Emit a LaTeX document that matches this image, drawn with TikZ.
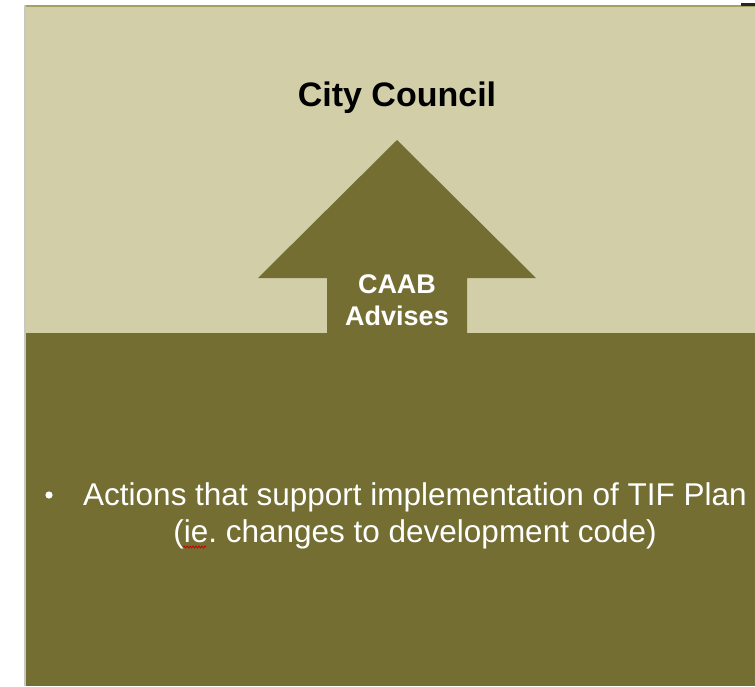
\documentclass[tikz,border=0pt]{standalone}
\usepackage{fontspec}
\setmainfont{Liberation Sans}
\usetikzlibrary{decorations.pathmorphing}
\definecolor{lightpanel}{RGB}{210,207,168}
\definecolor{darkolive}{RGB}{116,110,51}
\definecolor{topline}{RGB}{165,160,95}
\definecolor{shadowgray}{RGB}{200,200,195}
\tikzset{
  panel/.style={fill=#1, draw=none},
  whitetxt/.style={text=white, font=\bfseries\fontsize{27}{32}\selectfont, align=center, inner sep=0pt},
  bodytxt/.style={text=white, font=\fontsize{31.5}{37}\selectfont, inner sep=0pt},
}
\frenchspacing
\begin{document}
\begin{tikzpicture}[x=1pt, y=-1pt]
\useasboundingbox (0,0) rectangle (755,686);
\fill[white] (0,0) rectangle (755,686);
% shadow at left edge
\fill[shadowgray] (24,5) rectangle (26,686);
% panels
\fill[panel=lightpanel] (26,6) rectangle (755,333);
\fill[panel=darkolive] (26,333) rectangle (755,686);
% top border line and mark
\fill[topline] (26,4.5) rectangle (755,7);
\fill[black!85] (741,3) rectangle (755,6);
% arrow
\fill[darkolive] (397,140) -- (536,278) -- (467,278) -- (467,334) -- (327,334) -- (327,278) -- (258,278) -- cycle;
% texts
\node[anchor=base, font=\bfseries\fontsize{34}{40}\selectfont, inner sep=0pt] (council) at (397,106) {City Council};
\node[anchor=base, whitetxt] (caab) at (397,293) {CAAB};
\node[anchor=base, whitetxt] (advises) at (397,325) {Advises};
\node[anchor=base, bodytxt] (line1) at (415,505) {Actions that support implementation of TIF Plan};
\node[anchor=base, bodytxt] (line2) at (415,542) {(ie. changes to development code)};
\fill[white] (49,495) circle (3.6);
% spell-check underline under "ie"
\draw[red!80!black, line width=0.8pt, decorate, decoration={snake, amplitude=1pt, segment length=3pt}]
  ([xshift=10pt, yshift=-5pt]line2.base west) -- ([xshift=33pt, yshift=-5pt]line2.base west);
\end{tikzpicture}
\end{document}
